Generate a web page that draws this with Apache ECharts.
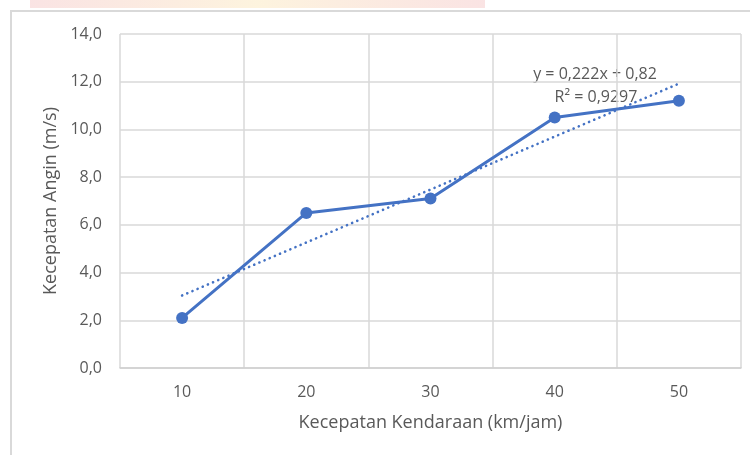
<!DOCTYPE html>
<html>
<head>
<meta charset="utf-8">
<script src="https://cdn.jsdelivr.net/npm/echarts@6/dist/echarts.min.js"></script>
<style>html,body{margin:0;padding:0;background:#fff;}#c{width:750px;height:455px;}</style>
</head>
<body>
<div id="c"></div>
<script>
var categories = ['10', '20', '30', '40', '50'];
var windSpeed = [2.1, 6.5, 7.1, 10.5, 11.2];
var trendValues = [3.04, 5.26, 7.48, 9.70, 11.92];
var equationText = 'y = 0,222x + 0,82';
var r2Text = 'R² = 0,9297';
var xName = 'Kecepatan Kendaraan (km/jam)';
var yName = 'Kecepatan Angin (m/s)';

var chart = echarts.init(document.getElementById('c'), null, {renderer: 'canvas'});
var font = '"Open Sans", "Noto Sans", sans-serif';
var txt = '#595959';
chart.setOption({
  animation: false,
  backgroundColor: '#fff',
  grid: {left: 120, right: 9, top: 34, bottom: 87, containLabel: false},
  graphic: [
    {type: 'rect', silent: true, shape: {x: 30, y: 0, width: 455, height: 8},
     style: {fill: {type: 'linear', x: 0, y: 0, x2: 1, y2: 0, colorStops: [
       {offset: 0, color: 'rgba(245,200,200,0.5)'},
       {offset: 0.5, color: 'rgba(252,236,200,0.6)'},
       {offset: 1, color: 'rgba(245,200,200,0.5)'}]}}},
    {type: 'rect', silent: true, shape: {x: 11, y: 11, width: 760, height: 460},
     style: {fill: 'none', stroke: '#d9d9d9', lineWidth: 2}},
    {type: 'text', x: 595, y: 74, style: {text: equationText, font: '16px ' + font, fill: txt, align: 'center', verticalAlign: 'middle'}},
    {type: 'text', x: 596, y: 97, style: {text: r2Text, font: '16px ' + font, fill: txt, align: 'center', verticalAlign: 'middle'}}
  ],
  xAxis: {
    type: 'category',
    data: categories,
    boundaryGap: true,
    name: xName,
    nameLocation: 'middle',
    nameGap: 46,
    nameTextStyle: {color: txt, fontSize: 18, fontFamily: font},
    axisLine: {show: true, lineStyle: {color: '#cfcfcf', width: 1.5}},
    axisTick: {show: false},
    axisLabel: {color: txt, fontSize: 16, fontFamily: font, margin: 16},
    splitLine: {show: true, lineStyle: {color: '#d9d9d9', width: 1.5}}
  },
  yAxis: {
    type: 'value',
    min: 0, max: 14, interval: 2,
    name: yName,
    nameLocation: 'middle',
    nameGap: 59,
    nameTextStyle: {color: txt, fontSize: 18, fontFamily: font},
    axisLine: {show: false},
    axisTick: {show: false},
    axisLabel: {color: txt, fontSize: 16, fontFamily: font, margin: 18,
      formatter: function (v) { return v.toFixed(1).replace('.', ','); }},
    splitLine: {show: true, lineStyle: {color: '#d9d9d9', width: 1.5}}
  },
  series: [
    {
      type: 'line',
      data: trendValues,
      symbol: 'none',
      z: 2,
      lineStyle: {color: '#4472C4', width: 2.6, type: [0.1, 5.5], cap: 'round'}
    },
    {
      type: 'line',
      data: windSpeed,
      symbol: 'circle',
      symbolSize: 12,
      z: 3,
      itemStyle: {color: '#4472C4'},
      lineStyle: {color: '#4472C4', width: 3}
    }
  ]
});
</script>
</body>
</html>
